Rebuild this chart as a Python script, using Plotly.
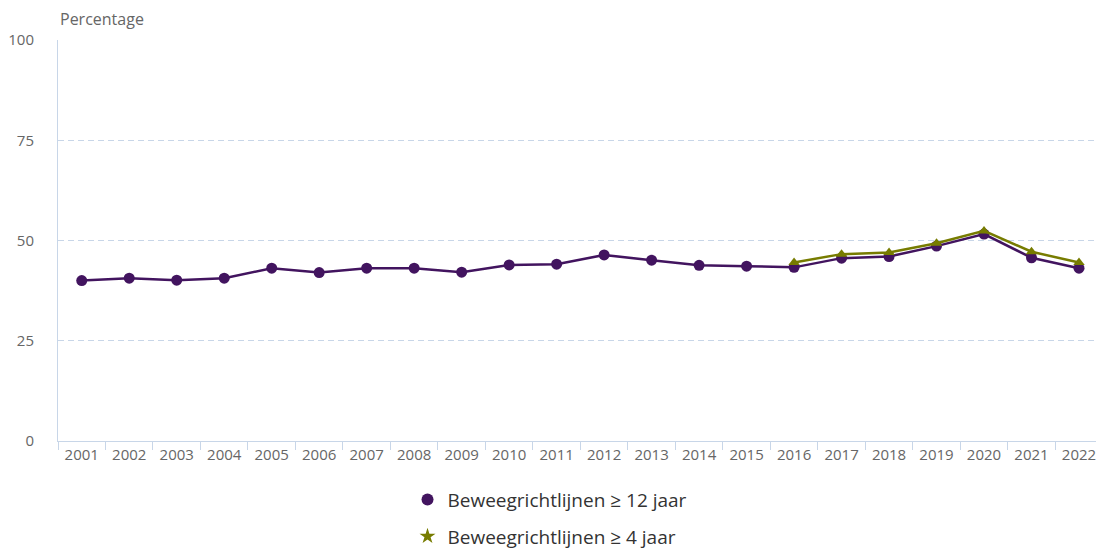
import plotly.graph_objects as go

years = [str(y) for y in range(2001, 2023)]
ge12 = [40.0, 40.6, 40.1, 40.6, 43.1, 42.0, 43.1, 43.1, 42.1, 43.9, 44.1, 46.4,
        45.1, 43.8, 43.6, 43.3, 45.6, 46.0, 48.6, 51.6, 45.7, 43.1]
years4 = [str(y) for y in range(2016, 2023)]
ge4 = [44.5, 46.6, 47.0, 49.3, 52.4, 47.2, 44.5]

name12 = "Beweegrichtlijnen ≥ 12 jaar"
name4 = "Beweegrichtlijnen ≥ 4 jaar"
purple = "#42145f"
olive = "#777c00"
gridc = "#c8d6e8"
font = "Open Sans, Noto Sans, sans-serif"

fig = go.Figure()
fig.add_trace(go.Scatter(x=years, y=ge12, name=name12, mode="lines+markers",
                         line=dict(color=purple, width=2.5),
                         marker=dict(color=purple, size=11, symbol="circle"),
                         showlegend=False))
fig.add_trace(go.Scatter(x=years4, y=ge4, name=name4, mode="lines+markers",
                         line=dict(color=olive, width=2.5),
                         marker=dict(color=olive, size=10, symbol="triangle-up"),
                         showlegend=False))
# legend entries (marker only, as in the reference)
fig.add_trace(go.Scatter(x=[None], y=[None], name=name12, mode="markers",
                         marker=dict(color=purple, size=13, symbol="circle"),
                         legendgroup="a"))
fig.add_trace(go.Scatter(x=[None], y=[None], name=name4, mode="markers",
                         marker=dict(color=olive, size=14, symbol="star"),
                         legendgroup="b"))

fig.update_layout(
    width=1096, height=550,
    margin=dict(l=58, r=0, t=40, b=109),
    paper_bgcolor="white", plot_bgcolor="white",
    font=dict(family=font, color="#666666", size=15),
    showlegend=True,
    legend=dict(orientation="v", x=0.474, xanchor="center",
                yref="container", y=0.126, yanchor="top",
                font=dict(size=19, color="#333333"), tracegroupgap=9,
                traceorder="grouped", itemsizing="constant", itemwidth=30,
                borderwidth=0),
    xaxis=dict(type="category", range=[-0.5, 21.358], tickson="boundaries",
               ticks="outside", ticklen=8, tickcolor=gridc,
               showline=True, linecolor=gridc, linewidth=1,
               showgrid=False, zeroline=False,
               tickfont=dict(size=15, color="#666666")),
    yaxis=dict(range=[0, 100], tickvals=[0, 25, 50, 75, 100],
               showline=True, linecolor=gridc, linewidth=1,
               showgrid=True, gridcolor=gridc, griddash="6px,4px", gridwidth=1,
               zeroline=False, ticks="", ticklabelstandoff=20,
               tickfont=dict(size=15, color="#666666")),
    annotations=[dict(text="Percentage", xref="paper", yref="paper", x=0, y=1,
                      xanchor="left", yanchor="bottom", yshift=8, xshift=0,
                      showarrow=False, font=dict(size=16, color="#666666"))],
)

fig.write_html("out.html",
               config={"displayModeBar": False},
               post_script="document.body.style.margin='0';"
                           "document.body.style.overflow='hidden';")
